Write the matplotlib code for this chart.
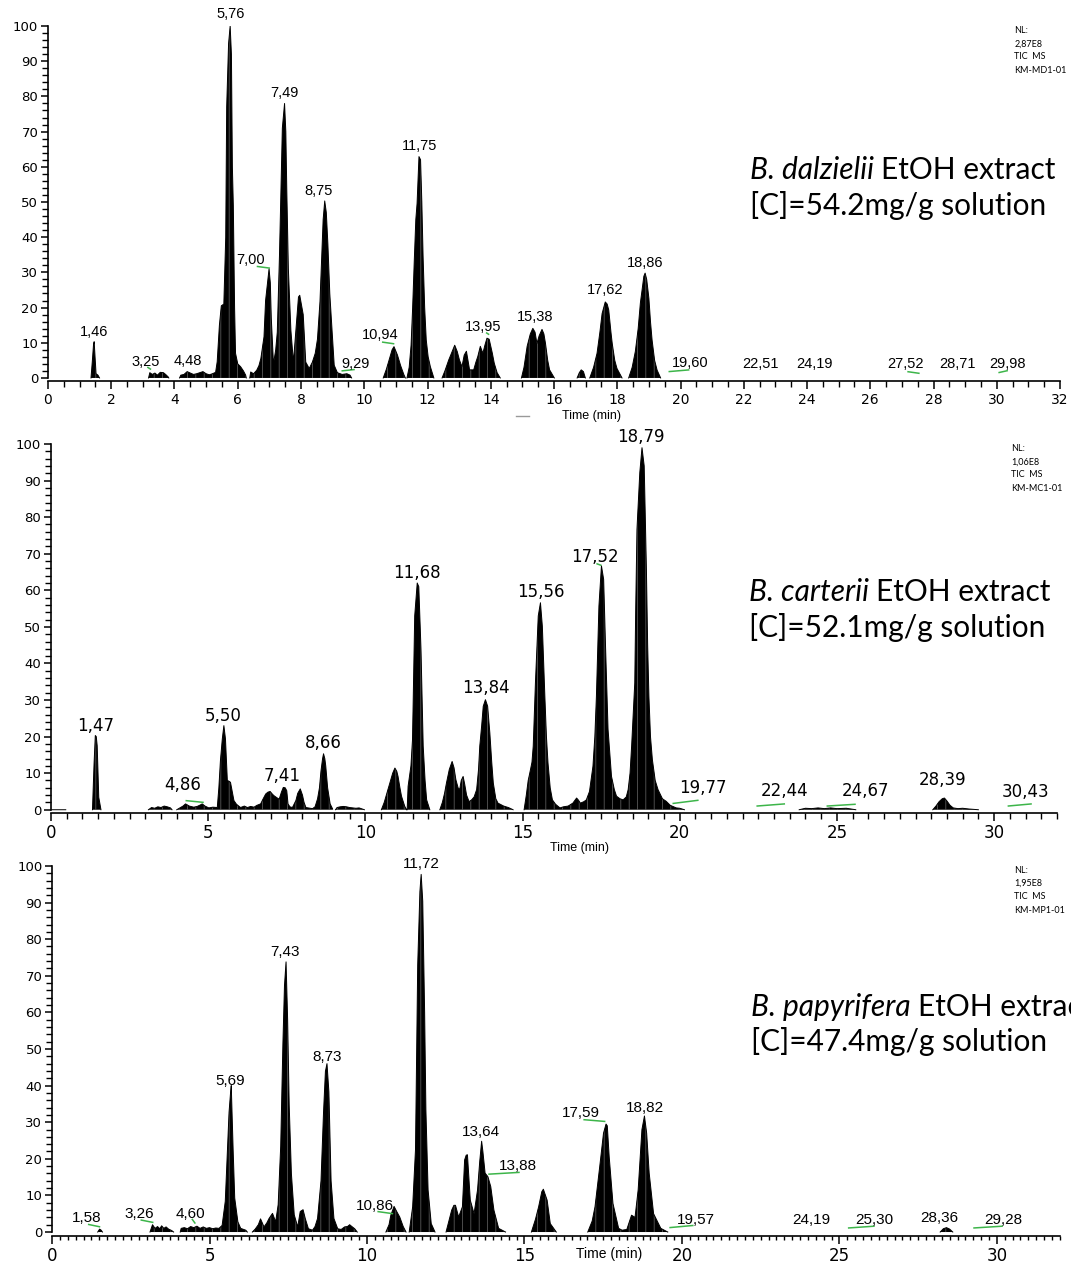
import matplotlib
matplotlib.use('Agg')
import matplotlib.pyplot as plt
import numpy as np
from matplotlib.ticker import MultipleLocator

# --- chromatogram traces (time min, relative abundance %), None = gap ---
trace_md = [
    (1.36, 0), (1.40, 4.5), (1.44, 9.5), (1.46, 10.3), (1.49, 5.5), (1.52, 1.2), (1.58, 0.8), (1.63, 0), None,
    (3.18, 0), (3.22, 1.5), (3.3, 1.0), (3.38, 1.4), (3.46, 0.8), (3.55, 1.6), (3.65, 1.5), (3.72, 1.0), (3.8, 0.3), (3.82, 0), None,
    (4.16, 0), (4.2, 0.8), (4.3, 1.0), (4.4, 1.8), (4.5, 1.4), (4.6, 1.0), (4.7, 1.2), (4.8, 1.5), (4.9, 1.8), (5.0, 1.2),
    (5.1, 0.9), (5.2, 1.2), (5.3, 1.6), (5.35, 4.6), (5.42, 15), (5.48, 20.5), (5.56, 21), (5.62, 40), (5.65, 77), (5.71, 95),
    (5.76, 100), (5.8, 92), (5.83, 60), (5.86, 49), (5.9, 20), (5.93, 7), (6.0, 4), (6.09, 3.2), (6.18, 2.0), (6.25, 0.8), (6.27, 0), None,
    (6.38, 0), (6.41, 1.7), (6.5, 1.2), (6.6, 2.2), (6.67, 3.5), (6.73, 5.5), (6.83, 11.7), (6.88, 22), (6.94, 27), (6.99, 31),
    (7.03, 27), (7.06, 17), (7.13, 4), (7.2, 8), (7.25, 13), (7.32, 35), (7.36, 51), (7.41, 71), (7.48, 78), (7.52, 70),
    (7.55, 53.6), (7.6, 31), (7.68, 13.6), (7.76, 4.5), (7.84, 13.6), (7.92, 23), (7.96, 23.5), (7.99, 22), (8.07, 18), (8.15, 4.5),
    (8.26, 2.7), (8.36, 4.5), (8.45, 7), (8.52, 11), (8.6, 21.7), (8.65, 33), (8.7, 45), (8.75, 50.3), (8.8, 47), (8.85, 38),
    (8.91, 24), (8.98, 13.6), (9.05, 3.6), (9.15, 1.5), (9.3, 1.0), (9.45, 1.2), (9.55, 0.8), (9.6, 0), None,
    (10.6, 0), (10.7, 2.5), (10.8, 5.5), (10.88, 8), (10.94, 8.9), (11.05, 6.5), (11.15, 3.5), (11.25, 1), (11.3, 0), None,
    (11.35, 0), (11.42, 3), (11.48, 9.3), (11.53, 20), (11.58, 33), (11.63, 45), (11.67, 49.6), (11.73, 62.9), (11.78, 62),
    (11.82, 50), (11.86, 34.5), (11.91, 20), (11.96, 10.8), (12.02, 6), (12.09, 3.2), (12.2, 0), None,
    (12.46, 0), (12.55, 2), (12.67, 5.1), (12.78, 7.5), (12.86, 9.3), (12.94, 7.5), (13.01, 5.1), (13.09, 3.2), (13.16, 6.5),
    (13.23, 7.6), (13.28, 5), (13.33, 2.3), (13.46, 2.3), (13.53, 4.5), (13.59, 6.1), (13.67, 9), (13.75, 7), (13.82, 9.5),
    (13.88, 11.3), (13.95, 11), (13.98, 9.8), (14.05, 7), (14.11, 4.2), (14.2, 1.5), (14.3, 0), None,
    (14.97, 0), (15.05, 3), (15.15, 9), (15.25, 12.5), (15.33, 14.1), (15.4, 13), (15.46, 9.8), (15.53, 12), (15.62, 13.8),
    (15.68, 12.5), (15.73, 9.8), (15.8, 5), (15.86, 2.3), (16.01, 0), None,
    (16.73, 0), (16.8, 1.5), (16.86, 2.3), (16.93, 1.8), (16.99, 0), None,
    (17.13, 0), (17.25, 3), (17.36, 7), (17.45, 13), (17.52, 18.3), (17.62, 21.6), (17.68, 21), (17.73, 19.3), (17.8, 13),
    (17.84, 9.8), (17.92, 5), (17.99, 2.7), (18.15, 0), None,
    (18.36, 0), (18.47, 3), (18.57, 7.5), (18.66, 14), (18.73, 21.3), (18.8, 26), (18.84, 28.9), (18.88, 29.8), (18.93, 28),
    (19.0, 22.6), (19.05, 16), (19.1, 10.8), (19.18, 5), (19.26, 2.2), (19.37, 0),
]

trace_mc = [
    (0, 0), (0.47, 0), None,
    (1.32, 0), (1.37, 12.5), (1.41, 20.3), (1.44, 20), (1.47, 17.5), (1.52, 3.4), (1.59, 0), None,
    (3.1, 0), (3.2, 0.6), (3.3, 0.4), (3.4, 0.8), (3.5, 0.6), (3.6, 1.0), (3.7, 0.8), (3.8, 0.5), (3.85, 0), None,
    (4.0, 0), (4.1, 0.5), (4.2, 1.0), (4.28, 1.6), (4.4, 1.0), (4.54, 0.7), (4.65, 0.9), (4.75, 1.3), (4.81, 1.6), (4.9, 1.0),
    (5.02, 0.5), (5.15, 0.7), (5.29, 0.6), (5.34, 6), (5.39, 13.4), (5.45, 19.4), (5.5, 23), (5.55, 19.4), (5.61, 8), (5.66, 7.8),
    (5.71, 7.5), (5.82, 2.5), (5.9, 1.5), (6.03, 0.6), (6.15, 1.0), (6.25, 0.6), (6.35, 0.9), (6.46, 0.7), (6.55, 1.2), (6.67, 1.6),
    (6.75, 3), (6.83, 4.3), (6.9, 4.8), (6.97, 5), (7.05, 4.2), (7.1, 3.8), (7.2, 3.2), (7.26, 2.9), (7.33, 4.8), (7.39, 6.1),
    (7.45, 6), (7.5, 5.2), (7.54, 1.6), (7.6, 0.8), (7.68, 0.6), (7.79, 2.5), (7.85, 4.5), (7.93, 5.7), (8.0, 4), (8.05, 2),
    (8.11, 0.6), (8.32, 0.3), (8.4, 0.8), (8.48, 3), (8.54, 6), (8.59, 10.7), (8.64, 14), (8.67, 15.3), (8.71, 14), (8.74, 12),
    (8.8, 6), (8.88, 1.6), (8.96, 0.2), None,
    (9.05, 0), (9.1, 0.6), (9.2, 0.8), (9.3, 0.9), (9.4, 0.8), (9.5, 0.6), (9.6, 0.5), (9.7, 0.4), (9.8, 0.5), (9.97, 0), None,
    (10.51, 0), (10.6, 2), (10.7, 5), (10.78, 7.3), (10.87, 10), (10.94, 11.4), (11.0, 10.5), (11.04, 9.1), (11.1, 6),
    (11.15, 3.7), (11.25, 1), (11.31, 0), None,
    (11.33, 0), (11.36, 6.4), (11.45, 12), (11.5, 19.2), (11.57, 53), (11.65, 62), (11.7, 61), (11.77, 43.8), (11.84, 17.4),
    (11.9, 8), (11.95, 2.7), (12.05, 0), None,
    (12.37, 0), (12.45, 2), (12.52, 4.5), (12.58, 7.3), (12.67, 11), (12.76, 13.2), (12.82, 11.5), (12.88, 8.2), (12.95, 6),
    (13.0, 5.5), (13.05, 8), (13.11, 9.1), (13.16, 7), (13.22, 4), (13.3, 2.2), (13.38, 2.7), (13.46, 3.5), (13.54, 5.5),
    (13.6, 11), (13.64, 17.4), (13.7, 23), (13.75, 28.3), (13.82, 30.1), (13.89, 28.3), (13.96, 21), (14.02, 13), (14.07, 7.3),
    (14.15, 3), (14.22, 1.8), (14.4, 1), (14.55, 0.6), (14.7, 0), None,
    (15.05, 0), (15.12, 4), (15.18, 8), (15.23, 10), (15.3, 13), (15.34, 17.4), (15.41, 34.7), (15.5, 53), (15.57, 56.6),
    (15.63, 50.2), (15.71, 31), (15.76, 20), (15.81, 12.8), (15.88, 6), (15.95, 2.7), (16.05, 1.5), (16.19, 0.5), (16.3, 0.8),
    (16.45, 1), (16.6, 1.8), (16.72, 3.2), (16.78, 2.6), (16.84, 1.8), (16.95, 2.2), (17.03, 2.7), (17.13, 5), (17.24, 11.9),
    (17.3, 20), (17.35, 31), (17.43, 55.7), (17.51, 66.7), (17.58, 63), (17.64, 44.7), (17.72, 22), (17.83, 9.1), (17.92, 5.5),
    (17.99, 3.7), (18.1, 3), (18.2, 2.7), (18.3, 3.5), (18.36, 5.5), (18.42, 10), (18.47, 17.4), (18.57, 34.7), (18.6, 55),
    (18.64, 76.7), (18.73, 92.2), (18.8, 99), (18.87, 94), (18.94, 65.8), (18.98, 45), (19.02, 31), (19.07, 20), (19.13, 13.7),
    (19.22, 8), (19.31, 5.5), (19.45, 3), (19.57, 2.3), (19.7, 1.2), (19.89, 0.5), (20.0, 0.4), (20.15, 0), None,
    (23.8, 0), (24.0, 0.4), (24.2, 0.3), (24.4, 0.5), (24.6, 0.3), (24.8, 0.5), (25.0, 0.3), (25.3, 0.4), (25.6, 0), None,
    (28.05, 0), (28.15, 1), (28.25, 2.2), (28.35, 3.0), (28.42, 3.2), (28.5, 2.4), (28.6, 1.2), (28.7, 0.5), (28.85, 0.3),
    (29.0, 0.4), (29.2, 0.2), (29.5, 0),
]

trace_mp = [
    (1.45, 0), (1.51, 0.8), (1.56, 0.5), (1.6, 0), None,
    (3.11, 0), (3.19, 2), (3.27, 1.0), (3.35, 1.5), (3.42, 0.9), (3.48, 1.7), (3.55, 1.0), (3.62, 1.4), (3.7, 0.8), (3.8, 0.4), (3.86, 0), None,
    (4.07, 0), (4.1, 1), (4.2, 1.2), (4.3, 0.9), (4.4, 1.5), (4.5, 1.2), (4.6, 1.6), (4.7, 1.0), (4.8, 1.4), (4.9, 1.0),
    (5.0, 1.2), (5.1, 0.9), (5.2, 1.1), (5.3, 1.0), (5.4, 1.8), (5.5, 8.4), (5.56, 20.6), (5.62, 32.7), (5.67, 38.3), (5.69, 40),
    (5.71, 34), (5.75, 22.4), (5.8, 9.3), (5.9, 2.8), (5.99, 1), (6.15, 0.5), (6.2, 0), None,
    (6.36, 0), (6.45, 0.8), (6.55, 2), (6.62, 3.6), (6.73, 1.4), (6.82, 2.5), (6.89, 3.7), (7.0, 5.1), (7.1, 2.8), (7.18, 7.5),
    (7.26, 23.4), (7.33, 51.4), (7.38, 67.3), (7.43, 73.8), (7.48, 58), (7.53, 34.6), (7.6, 15.9), (7.69, 4.7), (7.8, 1.4),
    (7.88, 5.6), (7.97, 6.1), (8.04, 3.7), (8.14, 0.9), (8.27, 0.5), (8.35, 1.5), (8.43, 3.7), (8.54, 14), (8.62, 32.7),
    (8.68, 43.9), (8.73, 46), (8.79, 38.3), (8.86, 14), (8.95, 3.7), (9.07, 0.9), (9.18, 0.7), (9.29, 1.4), (9.38, 1.5),
    (9.45, 2), (9.52, 1.5), (9.61, 0.9), (9.69, 0), None,
    (10.6, 0), (10.7, 2), (10.76, 4.7), (10.86, 7), (10.95, 5.5), (11.04, 4.1), (11.15, 1.5), (11.24, 0), None,
    (11.34, 0), (11.45, 6.9), (11.54, 22.5), (11.61, 72.9), (11.68, 93), (11.72, 97.7), (11.77, 90.4), (11.83, 60),
    (11.87, 33.5), (11.94, 11.5), (12.04, 2.3), (12.16, 0), None,
    (12.51, 0), (12.6, 3), (12.69, 6), (12.76, 7.3), (12.81, 7.3), (12.91, 4.1), (13.03, 6.9), (13.1, 19.7), (13.15, 21),
    (13.19, 21.1), (13.24, 14), (13.28, 8.7), (13.4, 5), (13.51, 11.5), (13.58, 19.3), (13.64, 24.8), (13.68, 22),
    (13.75, 16.1), (13.84, 15.1), (13.93, 12.4), (14.03, 6), (14.18, 1), (14.4, 0), None,
    (15.22, 0), (15.35, 3.5), (15.45, 6.9), (15.55, 11), (15.6, 11.7), (15.72, 8.7), (15.82, 2.3), (16.01, 0), None,
    (17.01, 0), (17.15, 3), (17.24, 6.9), (17.39, 17.9), (17.51, 27), (17.59, 29.5), (17.63, 29), (17.69, 20.6), (17.81, 7.8),
    (17.99, 1), (18.1, 0.5), (18.25, 0.7), (18.4, 4.6), (18.51, 4), (18.61, 11.5), (18.73, 28), (18.81, 31.7), (18.88, 27),
    (18.96, 16.1), (19.1, 5), (19.33, 1), (19.55, 0), None,
    (28.2, 0), (28.3, 0.9), (28.4, 1.2), (28.5, 0.8), (28.6, 0),
]

# --- peak labels: text, x, y (text centre) ---
labels_md = [("1,46", 1.45, 13), ("3,25", 3.08, 4.6), ("4,48", 4.42, 4.9), ("5,76", 5.76, 103.5), ("7,00", 6.41, 33.6),
             ("7,49", 7.47, 81), ("8,75", 8.57, 53), ("9,29", 9.74, 4.1), ("10,94", 10.5, 12.2), ("11,75", 11.74, 65.9),
             ("13,95", 13.77, 14.6), ("15,38", 15.39, 17.2), ("17,62", 17.6, 25), ("18,86", 18.87, 32.8),
             ("19,60", 20.32, 4.2), ("22,51", 22.53, 3.9), ("24,19", 24.24, 3.9), ("27,52", 27.11, 3.9),
             ("28,71", 28.76, 3.9), ("29,98", 30.35, 3.9)]
leaders_md = [(3.14, 3.1, 3.26, 2.4), (6.6, 31.7, 7.02, 31.2), (9.28, 2.0, 9.7, 2.4), (10.56, 10.2, 10.95, 9.7),
              (13.85, 12.9, 13.95, 12.3), (19.62, 1.8, 20.28, 2.3), (27.17, 1.8, 27.56, 1.3), (30.05, 1.5, 30.35, 2.1)]

labels_mc = [("1,47", 1.43, 22.9), ("4,86", 4.2, 6.8), ("5,50", 5.48, 25.6), ("7,41", 7.36, 9.3), ("8,66", 8.67, 18.2),
             ("11,68", 11.65, 64.7), ("13,84", 13.82, 33.2), ("15,56", 15.57, 59.6), ("17,52", 17.3, 69.1),
             ("18,79", 18.78, 101.8), ("19,77", 20.75, 6.0), ("22,44", 23.35, 5.0), ("24,67", 25.9, 5.0),
             ("28,39", 28.35, 8.0), ("30,43", 31.0, 4.8)]
leaders_mc = [(4.28, 2.5, 4.86, 2.0), (17.35, 67.3, 17.51, 66.8), (19.77, 1.7, 20.6, 2.6), (22.44, 1.0, 23.35, 1.6),
              (24.67, 1.0, 25.6, 1.5), (30.43, 1.0, 31.2, 1.6)]

labels_mp = [("1,58", 1.11, 3.9), ("3,26", 2.77, 5.0), ("4,60", 4.39, 5.0), ("5,69", 5.67, 41.3), ("7,43", 7.39, 76.6),
             ("8,73", 8.72, 47.7), ("10,86", 10.24, 7.2), ("11,72", 11.72, 100.5), ("13,64", 13.63, 27.2),
             ("13,88", 14.78, 18.1), ("17,59", 16.79, 32.6), ("18,82", 18.81, 33.9), ("19,57", 20.45, 3.4),
             ("24,19", 24.1, 3.2), ("25,30", 26.12, 3.2), ("28,36", 28.18, 3.9), ("29,28", 30.22, 3.2)]
leaders_mp = [(1.14, 2.1, 1.53, 1.4), (2.81, 3.3, 3.22, 2.6), (4.44, 3.6, 4.55, 2.3), (10.33, 5.6, 10.83, 5.0),
              (13.85, 15.8, 14.85, 16.3), (16.87, 30.7, 17.57, 30.2), (19.6, 1.2, 20.37, 1.8),
              (25.27, 1.1, 26.12, 1.6), (29.25, 1.1, 30.19, 1.6)]

nl_texts = ["NL:\n2,87E8\nTIC  MS\nKM-MD1-01", "NL:\n1,06E8\nTIC  MS\nKM-MC1-01", "NL:\n1,95E8\nTIC  MS\nKM-MP1-01"]
species = ["B. dalzielii", "B. carterii", "B. papyrifera"]
concs = ["[C]=54.2mg/g solution", "[C]=52.1mg/g solution", "[C]=47.4mg/g solution"]

GREEN = '#3db54a'
plt.rcParams['hatch.linewidth'] = 0.5


def to_xy(trace):
    t = [np.nan if p is None else p[0] for p in trace]
    y = [np.nan if p is None else p[1] for p in trace]
    return np.array(t), np.array(y)


def draw_panel(ax, trace, labels, leaders, lab_font, lab_size, major, minor, tick_font, tick_size):
    t, y = to_xy(trace)
    ax.fill_between(t, 0, y, facecolor='black', edgecolor='#6a6a6a', hatch='||', lw=0)
    ax.plot(t, y, color='black', lw=0.7)
    for x0, y0, x1, y1 in leaders:
        ax.plot([x0, x1], [y0, y1], color=GREEN, lw=1.1, solid_capstyle='butt')
    for txt, x, yy in labels:
        ax.text(x, yy, txt, ha='center', va='center', fontsize=lab_size, family=lab_font, clip_on=False)
    ax.set_xlim(0, 32)
    ax.set_ylim(-1, 100)
    for s in ('top', 'right'):
        ax.spines[s].set_visible(False)
    ax.spines['left'].set_bounds(0, 100)
    ax.spines['left'].set_linewidth(1.2)
    ax.spines['bottom'].set_linewidth(1.2)
    ax.xaxis.set_major_locator(MultipleLocator(major))
    ax.xaxis.set_minor_locator(MultipleLocator(minor))
    ax.yaxis.set_major_locator(MultipleLocator(10))
    ax.yaxis.set_minor_locator(MultipleLocator(2))
    ax.tick_params(axis='x', which='major', length=6, width=1.1, pad=2)
    ax.tick_params(axis='x', which='minor', length=4, width=1.0)
    ax.tick_params(axis='y', which='major', length=5, width=1.1, pad=2, labelsize=9.5)
    ax.tick_params(axis='y', which='minor', length=4, width=1.0)
    for lab in ax.get_xticklabels():
        lab.set_family(tick_font)
        lab.set_fontsize(tick_size)
    for lab in ax.get_yticklabels():
        lab.set_family('DejaVu Sans')


fig = plt.figure(figsize=(10.71, 12.64), dpi=100)
ax1 = fig.add_axes([0.0448, 0.6982, 0.945, 0.2812])
ax2 = fig.add_axes([0.0476, 0.3565, 0.9393, 0.2922])
ax3 = fig.add_axes([0.0486, 0.0224, 0.941, 0.2925])

draw_panel(ax1, trace_md, labels_md, leaders_md, 'Liberation Sans', 10.5, 2, 0.5, 'DejaVu Sans', 10)
draw_panel(ax2, trace_mc, labels_mc, leaders_mc, 'DejaVu Sans', 12, 5, 0.5, 'DejaVu Sans', 12)
draw_panel(ax3, trace_mp, labels_mp, leaders_mp, 'Liberation Sans', 11, 5, 0.25, 'DejaVu Sans', 12)
ax3.tick_params(axis='x', which='minor', length=3)

# axis titles
ax1.text(17.2, -10.8, "Time (min)", ha='center', va='center', fontsize=9, family='Liberation Sans', clip_on=False)
ax1.plot([14.8, 15.2], [-10.8, -10.8], color='#999999', lw=1, clip_on=False)
ax2.text(16.8, -10.5, "Time (min)", ha='center', va='center', fontsize=9, family='Liberation Sans', clip_on=False)
ax3.text(17.7, -6.0, "Time (min)", ha='center', va='center', fontsize=10, family='Liberation Sans', clip_on=False)

# right side annotations
sp_base = [56.5, 57, 59]
for ax, nl, sp, yb in zip([ax1, ax2, ax3], nl_texts, species, sp_base):
    ax.text(30.55, 100, nl, ha='left', va='top', fontsize=6.5, family='Lato', linespacing=1.6, clip_on=False)
    ax.text(22.2, yb, sp + " ", ha='left', va='baseline', fontsize=21.5, family='Lato', style='italic', clip_on=False)

fig.canvas.draw()
rend = fig.canvas.get_renderer()
for ax, sp, cc in zip([ax1, ax2, ax3], species, concs):
    t0 = [tx for tx in ax.texts if tx.get_text() == sp + " "][0]
    bb = t0.get_window_extent(rend)
    fig.text(bb.x1 / fig.bbox.width, bb.y0 / fig.bbox.height, "EtOH extract",
             ha='left', va='bottom', fontsize=21.5, family='Lato')
    fig.text(bb.x0 / fig.bbox.width, bb.y0 / fig.bbox.height - 0.028, cc,
             ha='left', va='bottom', fontsize=21.5, family='Lato')

fig.savefig('out.png', dpi=100)
